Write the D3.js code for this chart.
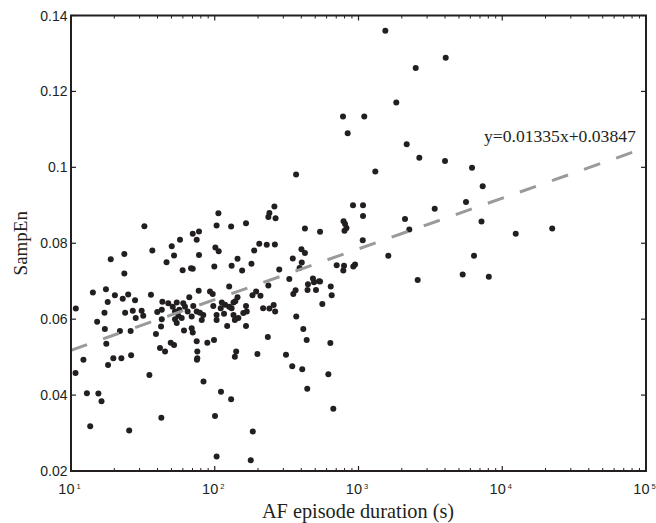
<!DOCTYPE html>
<html><head><meta charset="utf-8">
<script src="https://cdn.jsdelivr.net/npm/d3@7/dist/d3.min.js"></script>
<style>body{margin:0;background:#fff}</style>
</head><body>
<svg id="chart" width="656" height="523"></svg>
<script>
// AF episode duration (s)
const duration = [
 10.8,12.2,10.75,12.9,15.5,16.3,13.6,14.2,15.2,17.5,18.0,17.1,17.2,17.6,18.1,19.7,18.9,20.2,22.4,23.5,23.5,22.9,21.9,23.8,25.0,27.9,26.2,26.0,26.9,28.2,31.0,31.8,25.4,35.1,32.4,
 36.8,50.2,52.1,57.3,70.3,77.7,74.9,77.7,101,106.5,106,103,130,144,46.2,59.8,68.4,70.3,99.3,131,36.0,43.2,47.5,51.0,54.4,60.4,62.1,66.5,70.9,64.8,56.7,52.9,39.8,42.8,74.9,78.9,83.2,97.7,112,110,118,126,131,135,77.3,92.7,96.8,126,144,139,55.8,52.9,54.4,58.9,69.1,81.2,103,103,116,135,138,146,122,42.8,42.3,61.1,69.1,70.3,39.0,74.9,88.8,98.8,49.4,52.1,41.6,45.1,75.6,75.6,141,138,42.5,75.2,83.5,110.5,130,100.4,103,
 178,184,155,180,165,188,204,230,262,240,236,265,260,281,349,401,424,403,389,368,424,330,236,183,194,208,365,352,442,506,445,482,490,531,369,413,234,436,165,165,167,158,217,240,257,263,198,313,346,406,440,
 540,540,641,651,560,637,617,668,705,793,784,920,946,787,806,825,799,1070,1612,916,1075,1075,1309,780,1097,841,1537,4043,2500,1832,2164,2649,3998,6162,7311,5595,3389,2106,2256,7173,12410,22260,6362,5307,8062,2581
];
// SampEn
const sampEn = [
 .0628,.0493,.0458,.0405,.0404,.0384,.0318,.0670,.0593,.0679,.0645,.0617,.0574,.0535,.0479,.0497,.0758,.0663,.0497,.0720,.0772,.0654,.0569,.0617,.0665,.0650,.0505,.0569,.0622,.0603,.0622,.0609,.0307,.0453,.0845,
 .0781,.0792,.0768,.0809,.0825,.0831,.0809,.0769,.0789,.0779,.0879,.0847,.0844,.0759,.0750,.0729,.0734,.0733,.0739,.0741,.0664,.0646,.0642,.0633,.0644,.0642,.0633,.0658,.0635,.0620,.0625,.0620,.0619,.0625,.0620,.0617,.0611,.0635,.0644,.0629,.0638,.0633,.0629,.0644,.0675,.0673,.0666,.0686,.0658,.0647,.0609,.0600,.0590,.0603,.0607,.0598,.0611,.0598,.0614,.0611,.0598,.0603,.0582,.0600,.0581,.0570,.0576,.0565,.0561,.0542,.0538,.0545,.0538,.0532,.0524,.0515,.0515,.0497,.0515,.0501,.0340,.0493,.0436,.0409,.0389,.0345,.0238,
 .0228,.0304,.0728,.0746,.0853,.0781,.0799,.0796,.0797,.0880,.0869,.0866,.0897,.0731,.0760,.0784,.0774,.0749,.0735,.0981,.0839,.0706,.0689,.0663,.0673,.0662,.0676,.0666,.0677,.0677,.0692,.0707,.0697,.0700,.0607,.0574,.0553,.0545,.0582,.0635,.0620,.0616,.0629,.0628,.0637,.0620,.0508,.0506,.0476,.0468,.0417,
 .0830,.0699,.0686,.0663,.0640,.0537,.0455,.0364,.0742,.0741,.0728,.0739,.0744,.0858,.0851,.0840,.0833,.0808,.0767,.0900,.0900,.0872,.0989,.1134,.1134,.1090,.1360,.1289,.1262,.1171,.1061,.1025,.1017,.0999,.0950,.0909,.0891,.0864,.0836,.0857,.0825,.0839,.0767,.0718,.0712,.0703
];
const xTickExponents = [1, 2, 3, 4, 5];
const yTickValues = [0.02, 0.04, 0.06, 0.08, 0.10, 0.12, 0.14];
const yTickLabels = ["0.02", "0.04", "0.06", "0.08", "0.1", "0.12", "0.14"];
const fitSlope = 0.01335, fitIntercept = 0.03847;
const fitLabel = "y=0.01335x+0.03847";
const xTitle = "AF episode duration (s)";
const yTitle = "SampEn";

const svg = d3.select("#chart");
const L = 71, R = 646, T = 15.5, B = 471;
const ink = "#231f20";
const x = d3.scaleLog().domain([10, 1e5]).range([L, R]);
const y = d3.scaleLinear().domain([0.02, 0.14]).range([B, T]);

const g = svg.append("g");
// points
const pts = duration.map((d, i) => ({d, v: sampEn[i]}));
g.selectAll("circle.pt").data(pts).enter().append("circle")
  .attr("class", "pt")
  .attr("cx", p => x(p.d)).attr("cy", p => y(p.v))
  .attr("r", 3).attr("fill", ink);

// regression line (SampEn vs log10 duration)
svg.append("clipPath").attr("id", "clip").append("rect")
  .attr("x", L).attr("y", T).attr("width", R - L).attr("height", B - T);
const fitXs = [10, 1e5];
const line = d3.line().x(d => x(d)).y(d => y(fitSlope * Math.log10(d) + fitIntercept));
g.append("path").datum(fitXs).attr("d", line)
  .attr("clip-path", "url(#clip)")
  .attr("fill", "none").attr("stroke", "#9a9a9a").attr("stroke-width", 3)
  .attr("stroke-dasharray", "17,17");

// fit label
svg.append("text").attr("x", 484).attr("y", 142)
  .attr("font-family", "Liberation Serif, Times New Roman, serif").attr("font-size", 17.6)
  .attr("fill", ink).text(fitLabel);

// axes: bottom, top, left, right with inward ticks
const minor = [];
for (let e = 1; e < 5; e++) for (let m = 2; m <= 9; m++) minor.push(m * Math.pow(10, e));
const majors = xTickExponents.map(e => Math.pow(10, e));

const axG = svg.append("g").attr("stroke", ink).attr("fill", "none");
function tick(x1, y1, x2, y2, w) {
  axG.append("line").attr("x1", x1).attr("y1", y1).attr("x2", x2).attr("y2", y2).attr("stroke-width", w);
}
majors.forEach(v => { const px = x(v); tick(px, B, px, B - 5, 1.2); tick(px, T, px, T + 5, 1.2); });
minor.forEach(v => { const px = x(v); tick(px, B, px, B - 3, 1); tick(px, T, px, T + 3, 1); });
yTickValues.forEach(v => { const py = y(v); tick(L, py, L + 5, py, 1.2); tick(R, py, R - 5, py, 1.2); });
axG.append("rect").attr("x", L).attr("y", T).attr("width", R - L).attr("height", B - T)
  .attr("stroke-width", 2);

// tick labels
const sans = "Liberation Sans, Arial, Helvetica, sans-serif";
svg.append("g").selectAll("text").data(yTickValues).enter().append("text")
  .attr("x", L - 3.5).attr("y", d => y(d)).attr("dy", "0.36em")
  .attr("text-anchor", "end").attr("font-family", sans).attr("font-size", 14)
  .attr("fill", ink).text((d, i) => yTickLabels[i]);

const xl = svg.append("g").selectAll("text").data(xTickExponents).enter().append("text")
  .attr("x", e => x(Math.pow(10, e)) - 1.5).attr("y", 494)
  .attr("text-anchor", "middle").attr("font-family", sans).attr("font-size", 14.5).attr("fill", ink);
xl.append("tspan").text("10");
xl.append("tspan").attr("dx", 2).attr("dy", -5).attr("font-size", 7.5).text(e => e);

// titles
const serif = "Liberation Serif, Times New Roman, serif";
svg.append("text").attr("x", 358).attr("y", 518).attr("text-anchor", "middle")
  .attr("font-family", serif).attr("font-size", 20.3).attr("fill", ink).text(xTitle);
svg.append("text").attr("transform", `translate(27,${(T + B) / 2}) rotate(-90)`)
  .attr("text-anchor", "middle").attr("font-family", serif).attr("font-size", 19)
  .attr("fill", ink).text(yTitle);
</script>
</body></html>
